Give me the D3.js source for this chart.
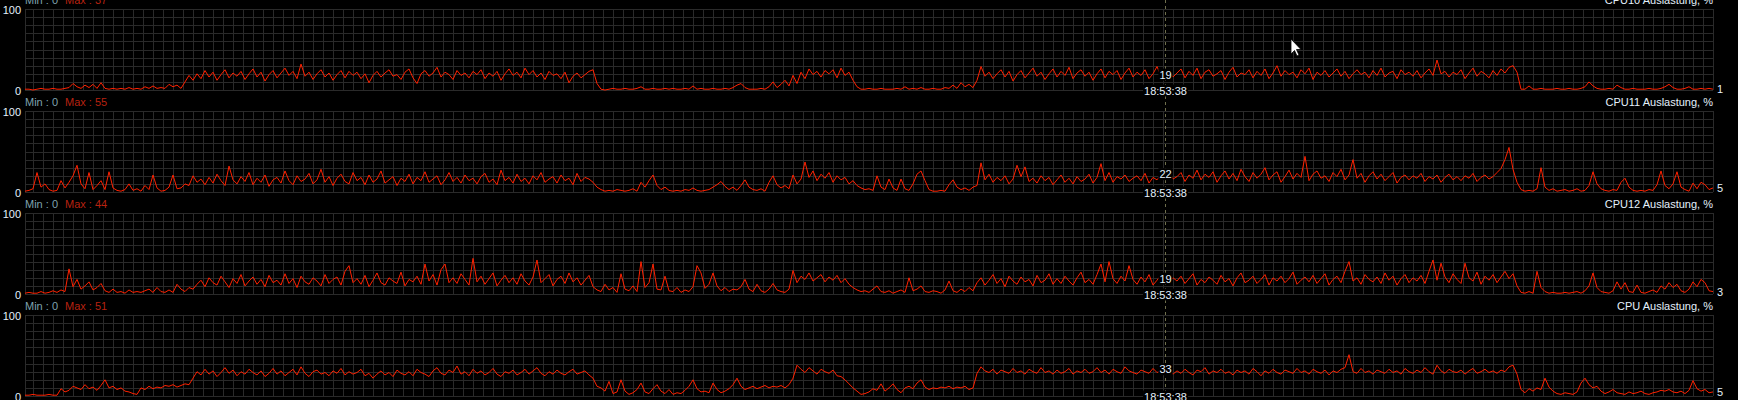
<!DOCTYPE html>
<html>
<head>
<meta charset="utf-8">
<script src="https://cdn.jsdelivr.net/npm/d3@7/dist/d3.min.js"></script>
<style>
html,body{margin:0;padding:0;background:#000;overflow:hidden;}
svg{display:block;}
text{font-family:"Liberation Sans",Arial,sans-serif;font-size:11px;}
</style>
</head>
<body>
<svg id="chart" width="1738" height="400"></svg>
<script>
// ---- data ----
const titles = ["CPU10 Auslastung, %", "CPU11 Auslastung, %", "CPU12 Auslastung, %", "CPU Auslastung, %"];
const minValues = [0, 0, 0, 0];
const maxValues = [37, 55, 44, 51];
const yTickLabels = ["100", "0"];
const cursorTime = "18:53:38";
const cursorIndex = 285;

const cpu10 = [
1,1,0,1,2,1,1,2,1,1, 2,3,8,4,2,6,3,7,2,9,
2,1,2,1,2,1,3,1,2,1, 4,2,5,2,3,2,7,4,6,2, 10,18,12,
20,14,24,16,22,12,19,25,15,21,
17,23,13,20,26,16,22,11,19,24,
15,21,27,18,23,14,32,17,22,13,
20,25,16,21,12,19,24,15,23,18,
22,14,20,9,18,23,16,21,25,17,
19,13,22,26,15,8,20,24,17,21,
28,16,22,19,13,24,18,21,15,23,
19,25,14,21,17,23,12,20,26,18,
22,15,27,19,24,16,21,13,23,18,
20,14,22,9,17,21,15,19,23,25,8,
1,0,1,2,1,1,2,1,1,2,
4,1,1,2,1,1,2,1,2,1,
1,2,1,5,1,2,1,1,2,1,
1,2,1,3,6,8,3,1,
1,1,2,1,4,10,3,7,12,5,
18,8,22,14,26,19,23,16,24,20,25,15,27,18,22,12,
4,1,1,2,1,1,2,1,1,1, 2,1,4,1,2,1,3,1,1,2, 1,1,3,2,6,2,9,4,7,3,
12,29,17,22,14,20,25,16,23,11,
19,24,15,21,27,17,22,13,20,26,
16,23,18,28,14,21,25,17,22,12,
20,26,15,23,19,24,13,21,27,16,
22,18,25,14,20,29,17,19,24,16,
21,26,15,23,18,27,14,22,25,17,
20,24,13,22,28,16,21,19,25,15,
23,18,26,14,21,30,17,24,19,22,
15,25,20,27,13,22,18,24,16,21,
26,17,23,14,20,25,19,22,15,24,
18,27,16,21,23,14,25,19,22,17,
24,15,21,26,18,37,20,23,16,22,
19,25,14,21,27,17,23,20,15,24,
18,26,21,28,30,22,
1,1,5,1,1,2,1,1,1,2,
1,1,2,1,1,2,4,10,5,2,
1,1,2,1,6,3,1,1,2,1,
1,1,2,1,1,2,4,7,3,1,
1,2,4,1,1,2,1,2,1
];

const cpu11 = [
1,2,4,24,6,10,3,1,2,14,
5,12,20,33,10,4,24,3,8,14,
3,25,5,2,1,3,10,2,4,1,
8,3,21,5,1,2,6,21,4,5, 10,8,20,
12,16,9,18,11,22,14,8,32,15,
10,19,13,24,9,17,12,21,7,15,
18,11,26,14,9,20,13,16,23,10,
15,28,12,19,8,17,22,13,10,24,
14,18,9,21,12,16,26,11,15,19,
8,17,13,22,10,18,14,25,12,16,
20,9,15,24,13,18,11,21,14,17,
10,19,23,12,16,9,27,14,18,11,
22,13,17,10,20,15,24,12,16,19,
11,21,14,17,9,23,13,18,16,12,6,
3,1,2,1,3,2,1,2,4,1,
12,6,14,21,8,3,6,2,1,2,
1,3,2,5,2,1,2,3,6,9,
13,7,3,6,2,8,15,6,
3,2,4,1,12,20,9,5,8,4,
21,10,16,37,18,26,14,22,17,24,12,20,15,18,10,14,
8,5,3,4,2,20,6,3,16,5, 2,16,4,2,10,22,26,14,3,1, 1,2,1,9,15,6,3,5,2,6,
8,36,15,22,12,18,14,20,10,16,
33,19,31,13,17,11,20,14,18,9,
15,21,12,17,10,19,13,16,22,11,
18,35,14,24,12,19,16,21,13,17,
20,14,23,11,18,15,21,22,26,16,
19,24,13,21,17,27,15,22,18,25,
12,20,26,16,23,14,28,19,13,24,
17,22,30,15,21,25,12,19,27,16,
23,18,44,14,22,26,17,20,13,24,
19,28,15,21,40,17,23,12,20,25,
16,22,14,19,24,11,18,21,15,20,
17,23,13,19,16,21,12,18,22,15,
19,14,20,17,23,13,18,21,16,19,
24,29,40,55,28,12,
3,1,2,1,4,30,6,2,4,1,
2,3,1,2,4,1,2,8,25,10,
4,2,1,3,2,12,17,6,2,1,
2,1,3,2,9,26,8,4,10,25,
6,3,1,11,4,12,9,3,5
];

const cpu12 = [
1,2,1,1,3,1,2,4,2,5,
3,31,9,18,6,10,15,5,8,13,
4,2,6,2,3,1,5,2,3,2,
4,6,2,8,3,2,5,2,12,6, 3,8,6,
12,17,9,20,14,11,22,15,8,19,
13,24,10,16,21,12,18,9,23,14,
17,11,25,13,19,8,22,15,12,20,
16,10,24,13,18,21,11,28,35,14,
19,12,23,9,17,26,14,11,20,16,
13,27,10,18,15,22,12,37,16,24,
11,30,37,14,20,13,25,18,11,44,
15,22,12,19,26,10,17,23,14,20,
12,25,16,11,21,42,14,19,24,10,
18,22,13,26,15,20,11,17,23,9,5,
3,12,5,8,2,25,6,4,10,3,
40,8,14,37,6,5,22,4,3,8,
2,5,3,9,35,26,7,12,26,10,
4,8,3,6,5,9,18,6,3,12,
4,2,6,13,5,3,2,6,
29,14,22,18,26,16,20,24,15,21,17,23,14,19,12,8,
5,3,4,2,6,10,3,2,4,1,
3,5,2,20,4,6,10,3,2,4,
3,1,5,16,4,2,6,3,8,4,
14,20,11,17,24,13,19,9,22,16,
12,21,15,18,10,23,14,17,25,12,
19,13,22,16,11,20,27,14,18,12,
24,37,15,40,19,13,22,16,35,18,
12,21,15,24,11,17,23,19,14,20,
16,22,13,19,25,11,18,14,21,17,
12,23,15,19,10,20,26,14,17,22,
13,18,24,11,20,16,22,14,19,27,
12,17,21,15,23,13,19,25,11,18,
22,14,28,40,16,20,12,24,18,15,
21,13,26,17,22,11,19,24,14,20,
16,23,13,28,42,17,38,21,14,25,
18,13,38,20,16,27,12,22,17,24,
14,21,28,19,25,10,
2,1,3,1,28,8,3,1,2,1,
1,2,1,2,3,1,4,10,26,8,
3,2,1,4,15,6,14,3,2,11,
2,1,3,5,2,10,6,14,8,12,
4,2,6,15,9,18,14,4,3
];

const cpuTotal = [
1,1,2,1,1,1,2,1,1,9,
5,7,12,10,8,14,9,11,7,13,
20,10,12,8,10,6,5,3,2,10,
8,12,9,11,10,13,12,14,11,13, 15,14,22,
30,26,33,27,31,24,29,35,28,32,
25,30,27,33,29,26,31,24,28,34,
27,31,25,29,33,26,36,28,24,30,
32,27,29,25,31,28,34,26,30,27,
29,33,25,28,22,27,31,26,29,24,
32,28,26,30,25,33,29,27,24,31,
35,28,26,32,29,37,27,30,25,33,
28,31,26,29,34,27,24,30,28,32,
26,29,33,27,31,35,28,25,30,27,
32,28,26,30,33,27,29,31,26,22,12,
10,6,18,3,5,20,6,2,4,8,
16,5,3,9,14,6,3,8,2,4,
3,7,12,20,9,5,6,4,16,8,
4,6,9,14,22,12,8,10,12,9,
11,13,10,12,11,13,10,14,
22,38,33,29,35,31,27,33,30,28,32,25,24,20,15,10,
6,2,3,5,9,7,15,6,10,15,
8,4,10,12,9,16,20,11,8,10,
9,11,10,12,9,11,10,12,8,10,
28,36,31,29,33,27,32,30,28,34,
29,31,27,33,30,28,35,29,31,27,
32,28,30,34,27,31,29,33,28,30,
35,29,32,27,33,30,28,36,31,29,
27,32,30,28,34,29,31,33,30,27,
31,28,33,29,26,32,30,35,27,31,
29,33,28,30,26,32,29,31,27,34,
30,25,31,28,33,29,27,32,30,28,
34,29,31,27,33,30,28,32,26,31,
29,33,35,51,30,28,34,29,31,27,
32,30,28,33,29,31,27,34,30,28,
32,29,35,30,27,38,31,28,33,30,
29,32,27,31,34,28,30,33,29,31,
28,32,30,36,38,27,
8,4,9,6,10,8,22,11,6,3,
2,4,3,2,5,16,22,14,10,12,
6,3,5,8,4,3,2,5,3,4,
6,3,2,4,5,7,6,8,5,4,
6,3,7,19,9,6,8,4,5
];

const seriesList = [cpu10, cpu11, cpu12, cpuTotal];

// ---- layout ----
const W = 1738, H = 400;
const plotLeft = 25, plotRight = 1713;
const panelTop0 = 9, panelStep = 102, panelH = 81;
const gridColor = "#2a2a2a";
const lineColor = "#ff2200";
const labelColor = "#e4f0fc";
const minColor = "#7fa2ae";
const maxColor = "#b82210";
const cursorColor = "#6e6e4c";

const svg = d3.select("#chart");
svg.append("rect").attr("width", W).attr("height", H).attr("fill", "#000");

const gridLayer = svg.append("g");
const cursorLayer = svg.append("g");
const dataLayer = svg.append("g");

seriesList.forEach((data, p) => {
  const top = panelTop0 + panelStep * p;
  const bottom = top + panelH;
  const x = d3.scaleLinear().domain([0, data.length - 1]).range([plotLeft, plotRight]);
  const y = d3.scaleLinear().domain([0, 100]).range([bottom, top]);
  const gg = gridLayer.append("g");
  const g = dataLayer.append("g");

  // vertical grid (anchored at right edge, every 10px)
  const vx = d3.range(plotRight, plotLeft, -10);
  gg.selectAll("line.v").data(vx).enter().append("line")
    .attr("x1", d => Math.round(d) + 0.5).attr("x2", d => Math.round(d) + 0.5)
    .attr("y1", y(100)).attr("y2", y(0))
    .attr("stroke", gridColor).attr("stroke-width", 1);
  // horizontal grid
  gg.selectAll("line.h").data(d3.range(0, 101, 10)).enter().append("line")
    .attr("x1", plotLeft).attr("x2", plotRight)
    .attr("y1", d => Math.round(y(d)) + 0.5).attr("y2", d => Math.round(y(d)) + 0.5)
    .attr("stroke", gridColor).attr("stroke-width", 1);
  // left border
  gg.append("line").attr("x1", plotLeft + 0.5).attr("x2", plotLeft + 0.5)
    .attr("y1", y(100)).attr("y2", y(0)).attr("stroke", gridColor);

  // y labels
  [100, 0].forEach((v, k) => {
    g.append("text").attr("x", 21).attr("y", Math.round(y(v)) + 0.5)
      .attr("text-anchor", "end").attr("dominant-baseline", "central")
      .attr("fill", labelColor).text(yTickLabels[k]);
  });

  // min / max labels
  g.append("text").attr("x", plotLeft).attr("y", top - 5)
    .attr("fill", minColor).text("Min : " + minValues[p]);
  g.append("text").attr("x", plotLeft + 40).attr("y", top - 5)
    .attr("fill", maxColor).text("Max : " + maxValues[p]);
  // title
  g.append("text").attr("x", plotRight).attr("y", top - 5)
    .attr("text-anchor", "end").attr("fill", labelColor).text(titles[p]);

  const cx = Math.round(x(cursorIndex)) + 0.5;
  if (p === 0) {
    cursorLayer.append("line").attr("x1", cx).attr("x2", cx).attr("y1", 0).attr("y2", H)
      .attr("stroke", cursorColor).attr("stroke-dasharray", "3,3");
  }

  // series line
  const line = d3.line().x((d, i) => x(i)).y(d => y(d)).curve(d3.curveLinear);
  g.append("path").datum(data).attr("d", line)
    .attr("fill", "none").attr("stroke", lineColor).attr("stroke-width", 1)
    .attr("stroke-linejoin", "miter");

  // current value at right
  const last = data[data.length - 1];
  g.append("text").attr("x", plotRight + 4).attr("y", y(last))
    .attr("dominant-baseline", "central").attr("fill", labelColor).text(last);

  // cursor value & time
  const cv = data[cursorIndex];
  const vt = g.append("text").attr("x", cx).attr("y", y(cv))
    .attr("text-anchor", "middle").attr("dominant-baseline", "central")
    .attr("fill", labelColor).text(cv);
  const vb = vt.node().getBBox();
  g.insert("rect", "text:last-child").attr("x", vb.x - 1).attr("y", vb.y).attr("width", vb.width + 2).attr("height", vb.height).attr("fill", "#000");
  const tt = g.append("text").attr("x", cx).attr("y", bottom + 0.5)
    .attr("text-anchor", "middle").attr("dominant-baseline", "central")
    .attr("fill", labelColor).text(cursorTime);
  const tb = tt.node().getBBox();
  g.insert("rect", "text:last-child").attr("x", tb.x - 1).attr("y", tb.y).attr("width", tb.width + 2).attr("height", tb.height).attr("fill", "#000");
});

// mouse pointer
svg.append("path")
  .attr("d", "M1291,39 L1291,54 L1294.5,50.5 L1297,56 L1299,55 L1296.5,49.5 L1301,49.5 Z")
  .attr("fill", "#fff").attr("stroke", "#000").attr("stroke-width", 0.8);
</script>
</body>
</html>
